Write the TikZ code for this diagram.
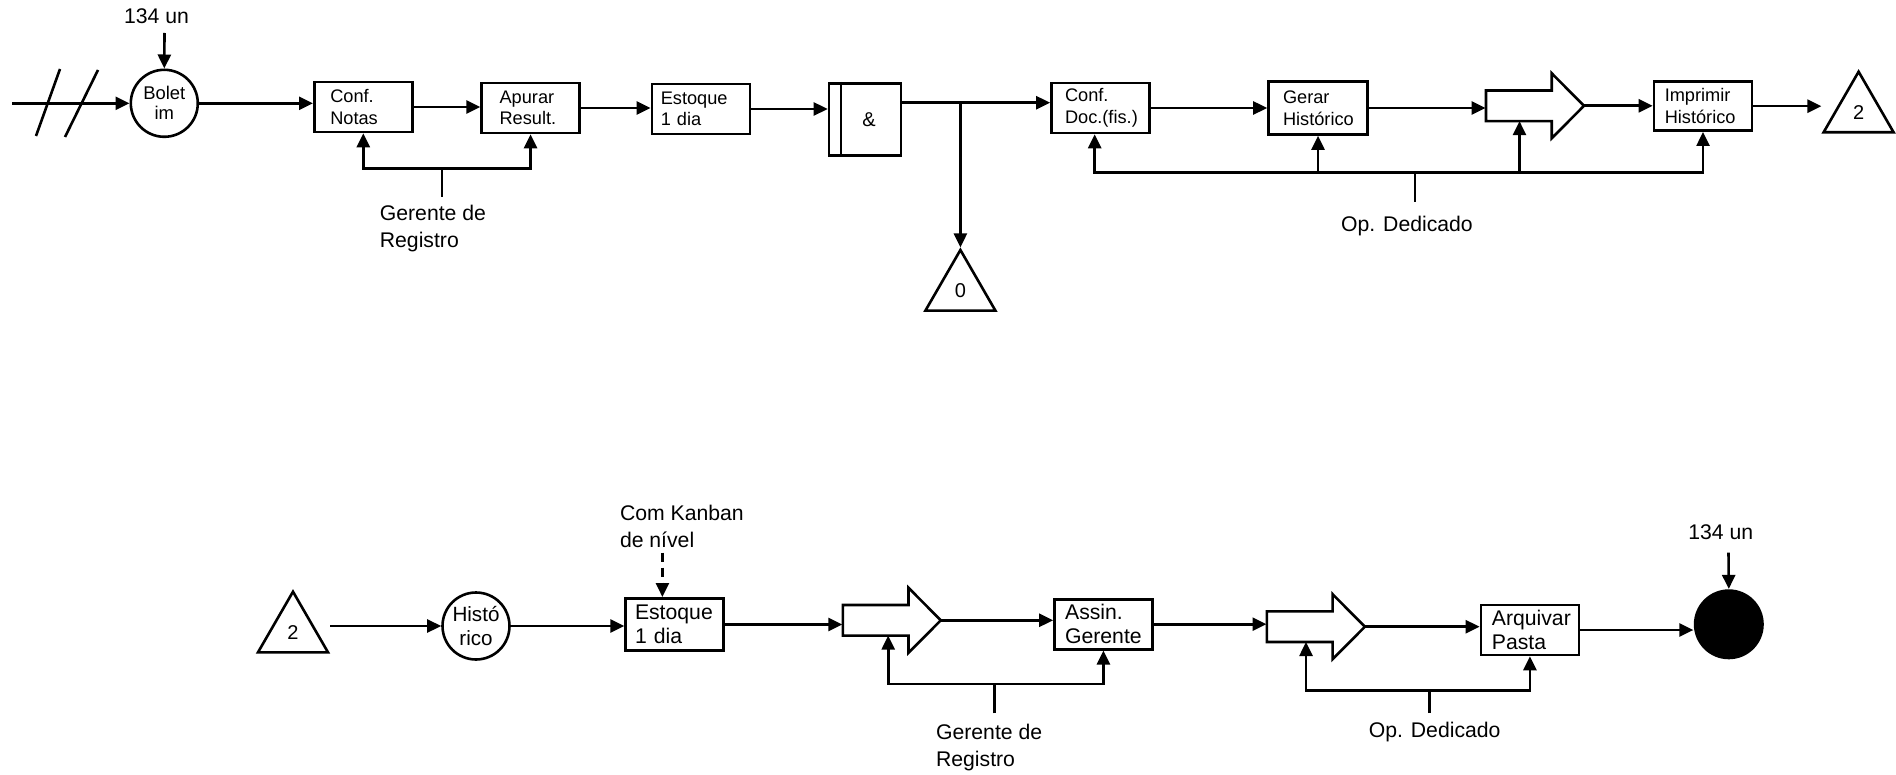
\documentclass[tikz,border=0pt]{standalone}
\usepackage{fontspec}
\setmainfont{Liberation Sans}
\usetikzlibrary{arrows.meta,shapes.geometric,calc}
\newcommand\pushshape[1]{\draw[ln, fill=white] ([shift={(-49,-15.3)}]#1.center) -- ++(65.7,0) -- ++(0,-17.2) -- ++(32.3,32.5) -- ++(-32.3,32.5) -- ++(0,-17.2) -- ++(-65.7,0) -- cycle;}
\begin{document}
\begin{tikzpicture}[x=0.5pt,y=-0.5pt,
  ln/.style={line width=1.3pt},
  arr/.style={ln, -{Triangle[length=7pt,width=6.5pt]}},
  darr/.style={arr, dash pattern=on 4.5pt off 3pt},
  box/.style={draw, ln, fill=white, align=left, inner ysep=0pt, minimum width=49pt, minimum height=25pt},
  topf/.style={font=\fontsize{9.1}{10.75}\selectfont},
  botf/.style={font=\fontsize{10.6}{12}\selectfont},
  lbl/.style={font=\fontsize{10.6}{13.6}\selectfont, inner sep=0pt, align=left},
  tri/.style={draw, ln, regular polygon, regular polygon sides=3, minimum size=40.4pt, inner sep=0pt, font=\fontsize{10}{12}\selectfont},
  pushbox/.style={minimum width=49pt, minimum height=32.5pt, inner sep=0pt},
  circ/.style={draw, ln, circle, inner sep=0pt, minimum size=33.5pt, align=center}]
\useasboundingbox (0,0) rectangle (1896,775);

% ---------- top row ----------
\node[circ, font=\fontsize{9.2}{10}\selectfont] (bol) at (164.3,103.3) {Bolet\\im};
\coordinate (in0) at (12,103.3);
\draw[arr] (in0) -- (bol);
\draw[ln] (36,136) -- (60,69);
\draw[ln] (65,137) -- (98,70);
\node[lbl] (q1) at (156.5,16.3) {134 un};
\coordinate (q1a) at (164.5,33);
\draw[arr] (q1a) -- (bol.north);

\node[box, topf, inner xsep=8pt, text width=33pt] (cn) at (363.3,107) {Conf.\\Notas};
\node[box, topf, inner xsep=9pt, text width=31pt] (ap) at (530.6,108) {Apurar\\Result.};
\node[box, topf, inner xsep=4.5pt, text width=40pt] (e1) at (700.8,109) {Estoque\\1 dia};
\node[draw, ln, minimum width=36pt, minimum height=36.2pt, inner sep=0pt, font=\fontsize{10}{12}\selectfont] (amp) at (865,119.5) {\hspace*{4pt}\&};
\draw[ln] ([xshift=6.7pt]amp.north west) -- ([xshift=6.7pt]amp.south west);
\coordinate (ampo) at ([yshift=8.4pt]amp.east);
\node[box, topf, inner xsep=6.8pt, text width=35.4pt] (cd) at (1100.4,108) {Conf.\\Doc.(fis.)};
\node[box, topf, inner xsep=7.25pt, text width=35pt, minimum height=26.5pt] (gh) at (1318,108) {Gerar\\Histórico};
\node[pushbox] (pa) at (1535,105.8) {};
\pushshape{pa}
\node[box, topf, inner xsep=5.25pt, text width=38.25pt, minimum height=24.5pt] (ih) at (1703,106.2) {Imprimir\\Histórico};
\node[tri] (t2) at (1858.6,112.1) {2};
\node[tri] (t0) at (960.4,290.4) {0};

\draw[arr] (bol.east) -- (bol.east -| cn.west);
\draw[arr] (cn.east) -- (cn.east -| ap.west);
\draw[arr] (ap.east) -- (ap.east -| e1.west);
\draw[arr] (e1.east) -- (e1.east -| amp.west);
\draw[arr] (ampo) -- (ampo -| cd.west);
\draw[arr] (ampo -| t0.corner 1) -- (t0.corner 1);
\draw[arr] (cd.east) -- (cd.east -| gh.west);
\draw[arr] (gh.east) -- (gh.east -| pa.west);
\draw[arr] (pa.east) -- (pa.east -| ih.west);
\draw[arr] (ih.east) -- (ih.east -| t2.corner 2);

% Gerente de Registro (top)
\coordinate (gb) at (442,168.3);
\coordinate (gt) at (442,196.7);
\draw[ln] (gt) -- (gb);
\draw[arr] (gb) -| (cn.south);
\draw[arr] (gb) -| (ap.south);
\node[lbl, anchor=north west] (gr1) at (379.5,204.5) {Gerente de\\Registro};

% Op. Dedicado (top)
\coordinate (ob) at (1414.9,172.5);
\coordinate (ot) at (1414.9,201.7);
\draw[ln] (ot) -- (ob);
\draw[arr] (ob) -| ([xshift=-2.85pt]cd.south);
\draw[arr] (ob) -| (gh.south);
\coordinate (pain) at ([shift={(-15.5,15.3)}]pa.center);
\draw[arr] (ob) -| (pain);
\draw[arr] (ob) -| (ih.south);
\node[lbl] (od1) at (1407,226) {Op. Dedicado};

% ---------- bottom row ----------
\node[tri] (t2b) at (293,632.1) {2};
\node[circ, font=\fontsize{10.3}{12}\selectfont] (hi) at (476,626) {Histó\\rico};
\node[box, botf, inner xsep=4.65pt, text width=39.7pt, minimum height=26.2pt] (e2) at (674.7,624.5) {Estoque\\1 dia};
\node[lbl, anchor=north west] (kb) at (619.6,504.7) {Com Kanban\\de nível};
\coordinate (kba) at (662.4,552.7);
\draw[darr] (kba) -- (kba |- e2.north);
\node[pushbox] (pb) at (891.8,620.3) {};
\pushshape{pb}
\node[box, botf, inner xsep=5.35pt, text width=38.3pt] (as) at (1103.4,624.2) {Assin.\\Gerente};
\node[pushbox] (pc) at (1315.9,626.7) {};
\pushshape{pc}
\node[box, botf, inner xsep=5.5pt, text width=38pt] (aq) at (1529.9,630) {Arquivar\\Pasta};
\node[circle, fill=black, inner sep=0pt, minimum size=35pt] (bk) at (1728.8,624.3) {};
\node[lbl] (q2) at (1720.7,531.7) {134 un};
\coordinate (q2a) at (1728.5,552.7);
\draw[arr] (q2a) -- (bk.north);

\draw[arr] (hi.west -| t2b.corner 3) -- (hi.west);
\draw[arr] (hi.east) -- (hi.east -| e2.west);
\draw[arr] (e2.east) -- (e2.east -| pb.west);
\draw[arr] (pb.east) -- (pb.east -| as.west);
\draw[arr] (as.east) -- (as.east -| pc.west);
\draw[arr] (pc.east) -- (pc.east -| aq.west);
\draw[arr] (aq.east) -- (aq.east -| bk.west);

% Gerente de Registro (bottom)
\coordinate (gb2) at (994.6,684);
\coordinate (gt2) at (994.6,713.3);
\draw[ln] (gt2) -- (gb2);
\coordinate (pbin) at ([shift={(-3.6,15.3)}]pb.center);
\draw[arr] (gb2) -| (pbin);
\draw[arr] (gb2) -| (as.south);
\node[lbl, anchor=north west] (gr2) at (935.7,724) {Gerente de\\Registro};

% Op. Dedicado (bottom)
\coordinate (ob2) at (1429.3,690.7);
\coordinate (ot2) at (1429.3,713);
\draw[ln] (ot2) -- (ob2);
\coordinate (pcin) at ([shift={(-9.9,15.3)}]pc.center);
\draw[arr] (ob2) -| (pcin);
\draw[arr] (ob2) -| (aq.south);
\node[lbl] (od2) at (1434.7,731.6) {Op. Dedicado};
\end{tikzpicture}
\end{document}
